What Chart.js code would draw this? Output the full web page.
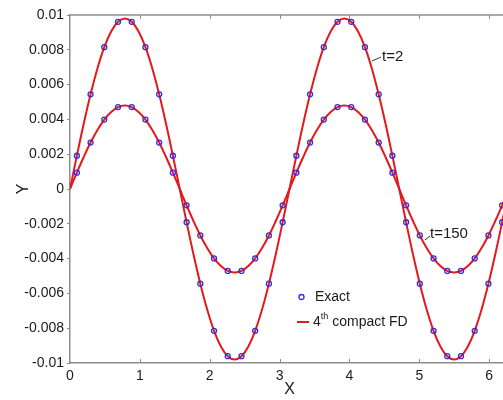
<!DOCTYPE html>
<html>
<head>
<meta charset="utf-8">
<script src="https://cdn.jsdelivr.net/npm/chart.js@4"></script>
<style>
  html, body { margin: 0; padding: 0; background: #fff; overflow: hidden; }
  #wrap { width: 520px; height: 400px; }
</style>
</head>
<body>
<div id="wrap"><canvas id="waveChart" width="520" height="400"></canvas></div>
<script>
// sample positions of the exact solution (circles)
const xExact = [0.0982, 0.2945, 0.4909, 0.6872, 0.8836, 1.0799, 1.2763, 1.4726,
  1.6690, 1.8653, 2.0617, 2.2580, 2.4544, 2.6507, 2.8471, 3.0434,
  3.2398, 3.4361, 3.6325, 3.8288, 4.0252, 4.2215, 4.4179, 4.6142,
  4.8106, 5.0069, 5.2033, 5.3996, 5.5960, 5.7923, 5.9887, 6.1850];
const exactT2 = [0.00191, 0.00544, 0.00815, 0.00961, 0.00961, 0.00815, 0.00544, 0.00191,
  -0.00191, -0.00544, -0.00815, -0.00961, -0.00961, -0.00815, -0.00544, -0.00191,
  0.00191, 0.00544, 0.00815, 0.00961, 0.00961, 0.00815, 0.00544, 0.00191,
  -0.00191, -0.00544, -0.00815, -0.00961, -0.00961, -0.00815, -0.00544, -0.00191];
const exactT150 = [0.00094, 0.00267, 0.00399, 0.00471, 0.00471, 0.00399, 0.00267, 0.00094,
  -0.00094, -0.00267, -0.00399, -0.00471, -0.00471, -0.00399, -0.00267, -0.00094,
  0.00094, 0.00267, 0.00399, 0.00471, 0.00471, 0.00399, 0.00267, 0.00094,
  -0.00094, -0.00267, -0.00399, -0.00471, -0.00471, -0.00399, -0.00267, -0.00094];

// compact FD curves (red lines)
const xFD = [0, 0.0982, 0.1963, 0.2945, 0.3927, 0.4909, 0.5890, 0.6872, 0.7854, 0.8836,
  0.9817, 1.0799, 1.1781, 1.2763, 1.3744, 1.4726, 1.5708, 1.6690, 1.7671, 1.8653,
  1.9635, 2.0617, 2.1598, 2.2580, 2.3562, 2.4544, 2.5525, 2.6507, 2.7489, 2.8471,
  2.9452, 3.0434, 3.1416, 3.2398, 3.3379, 3.4361, 3.5343, 3.6325, 3.7306, 3.8288,
  3.9270, 4.0252, 4.1233, 4.2215, 4.3197, 4.4179, 4.5160, 4.6142, 4.7124, 4.8106,
  4.9087, 5.0069, 5.1051, 5.2033, 5.3014, 5.3996, 5.4978, 5.5960, 5.6941, 5.7923,
  5.8905, 5.9887, 6.0868, 6.1850, 6.2832];
const fdT2 = [0, 0.00191, 0.00375, 0.00544, 0.00693, 0.00815, 0.00905, 0.00961, 0.00980, 0.00961,
  0.00905, 0.00815, 0.00693, 0.00544, 0.00375, 0.00191, 0, -0.00191, -0.00375, -0.00544,
  -0.00693, -0.00815, -0.00905, -0.00961, -0.00980, -0.00961, -0.00905, -0.00815, -0.00693, -0.00544,
  -0.00375, -0.00191, 0, 0.00191, 0.00375, 0.00544, 0.00693, 0.00815, 0.00905, 0.00961,
  0.00980, 0.00961, 0.00905, 0.00815, 0.00693, 0.00544, 0.00375, 0.00191, 0, -0.00191,
  -0.00375, -0.00544, -0.00693, -0.00815, -0.00905, -0.00961, -0.00980, -0.00961, -0.00905, -0.00815,
  -0.00693, -0.00544, -0.00375, -0.00191, 0];
const fdT150 = [0, 0.00094, 0.00184, 0.00267, 0.00339, 0.00399, 0.00443, 0.00471, 0.00480, 0.00471,
  0.00443, 0.00399, 0.00339, 0.00267, 0.00184, 0.00094, 0, -0.00094, -0.00184, -0.00267,
  -0.00339, -0.00399, -0.00443, -0.00471, -0.00480, -0.00471, -0.00443, -0.00399, -0.00339, -0.00267,
  -0.00184, -0.00094, 0, 0.00094, 0.00184, 0.00267, 0.00339, 0.00399, 0.00443, 0.00471,
  0.00480, 0.00471, 0.00443, 0.00399, 0.00339, 0.00267, 0.00184, 0.00094, 0, -0.00094,
  -0.00184, -0.00267, -0.00339, -0.00399, -0.00443, -0.00471, -0.00480, -0.00471, -0.00443, -0.00399,
  -0.00339, -0.00267, -0.00184, -0.00094, 0];

const xTicks = [0, 1, 2, 3, 4, 5, 6];

const fontFamily = '"Liberation Sans", Arial, Helvetica, sans-serif';
const textColor = '#1a1a1a';
const axisColor = '#8c8c8c';
const redLine = '#e3191c';
const blueCircle = '#3a2bd6';

const toPoints = (xs, ys) => xs.map((x, i) => ({x: x, y: ys[i]}));

// top box line, inward x ticks, legend and curve labels
const decorPlugin = {
  id: 'decor',
  afterDatasetsDraw(chart) {
    const ctx = chart.ctx;
    const area = chart.chartArea;
    const xs = chart.scales.x;

    ctx.save();
    ctx.strokeStyle = axisColor;
    ctx.lineWidth = 1.5;
    ctx.beginPath();
    ctx.moveTo(area.left, area.top);
    ctx.lineTo(area.right, area.top);
    ctx.stroke();

    ctx.lineWidth = 1;
    xTicks.forEach(v => {
      if (v === 0) return;
      const px = Math.round(xs.getPixelForValue(v)) + 0.5;
      ctx.beginPath();
      ctx.moveTo(px, area.bottom);
      ctx.lineTo(px, area.bottom - 4);
      ctx.moveTo(px, area.top);
      ctx.lineTo(px, area.top + 4);
      ctx.stroke();
    });

    // legend
    ctx.strokeStyle = blueCircle;
    ctx.lineWidth = 1.3;
    ctx.beginPath();
    ctx.arc(301.5, 297, 2.5, 0, Math.PI * 2);
    ctx.stroke();
    ctx.strokeStyle = redLine;
    ctx.lineWidth = 2;
    ctx.beginPath();
    ctx.moveTo(297, 322);
    ctx.lineTo(309, 322);
    ctx.stroke();

    ctx.fillStyle = textColor;
    ctx.textBaseline = 'middle';
    ctx.textAlign = 'left';
    ctx.font = '14px ' + fontFamily;
    ctx.fillText('Exact', 315, 297);
    ctx.fillText('4', 313, 322);
    let w = ctx.measureText('4').width;
    ctx.font = '9px ' + fontFamily;
    ctx.fillText('th', 313 + w, 317);
    w += ctx.measureText('th').width;
    ctx.font = '14px ' + fontFamily;
    ctx.fillText(' compact FD', 313 + w, 322);

    // curve labels with leader lines
    ctx.strokeStyle = '#333';
    ctx.lineWidth = 1;
    ctx.beginPath();
    ctx.moveTo(372, 61);
    ctx.lineTo(381, 57);
    ctx.moveTo(425, 240);
    ctx.lineTo(430, 236);
    ctx.stroke();
    ctx.font = '15px ' + fontFamily;
    ctx.fillText('t=2', 382, 57);
    ctx.fillText('t=150', 430, 234);
    ctx.restore();
  }
};

const waveChart = new Chart(document.getElementById('waveChart').getContext('2d'), {
  type: 'scatter',
  data: {
    datasets: [
      {
        label: 'Exact t=2',
        data: toPoints(xExact, exactT2),
        showLine: false,
        pointRadius: 2.5,
        pointBorderWidth: 1.3,
        pointBorderColor: blueCircle,
        pointBackgroundColor: 'rgba(0,0,0,0)'
      },
      {
        label: 'Exact t=150',
        data: toPoints(xExact, exactT150),
        showLine: false,
        pointRadius: 2.5,
        pointBorderWidth: 1.3,
        pointBorderColor: blueCircle,
        pointBackgroundColor: 'rgba(0,0,0,0)'
      },
      {
        label: 'FD t=2',
        data: toPoints(xFD, fdT2),
        showLine: true,
        borderColor: redLine,
        borderWidth: 2,
        pointRadius: 0,
        tension: 0.4
      },
      {
        label: 'FD t=150',
        data: toPoints(xFD, fdT150),
        showLine: true,
        borderColor: redLine,
        borderWidth: 2,
        pointRadius: 0,
        tension: 0.4
      }
    ]
  },
  options: {
    responsive: false,
    animation: false,
    layout: {padding: {top: 15, right: 11, left: 0, bottom: 0}},
    plugins: {legend: {display: false}, tooltip: {enabled: false}},
    scales: {
      x: {
        type: 'linear',
        min: 0,
        max: 6.2832,
        afterFit: s => { s.height = 37; },
        afterBuildTicks: s => { s.ticks = xTicks.map(v => ({value: v})); },
        grid: {display: true, drawOnChartArea: false, drawTicks: false},
        border: {color: axisColor, width: 1.5},
        ticks: {color: textColor, padding: 5, maxRotation: 0, font: {family: fontFamily, size: 14}},
        title: {display: true, text: 'X', color: textColor, padding: {top: 0, bottom: 1},
          font: {family: fontFamily, size: 16}}
      },
      y: {
        min: -0.01,
        max: 0.01,
        afterFit: s => { s.width = 70; },
        grid: {display: true, drawOnChartArea: false, drawTicks: true, tickLength: 3, color: axisColor},
        border: {color: axisColor, width: 1.5},
        ticks: {
          stepSize: 0.002,
          color: textColor,
          padding: 3,
          font: {family: fontFamily, size: 14},
          callback: v => Number(v.toFixed(3)).toString()
        },
        title: {display: true, text: 'Y', color: textColor, padding: {top: 14, bottom: 0},
          font: {family: fontFamily, size: 16}}
      }
    }
  },
  plugins: [decorPlugin]
});
</script>
</body>
</html>
